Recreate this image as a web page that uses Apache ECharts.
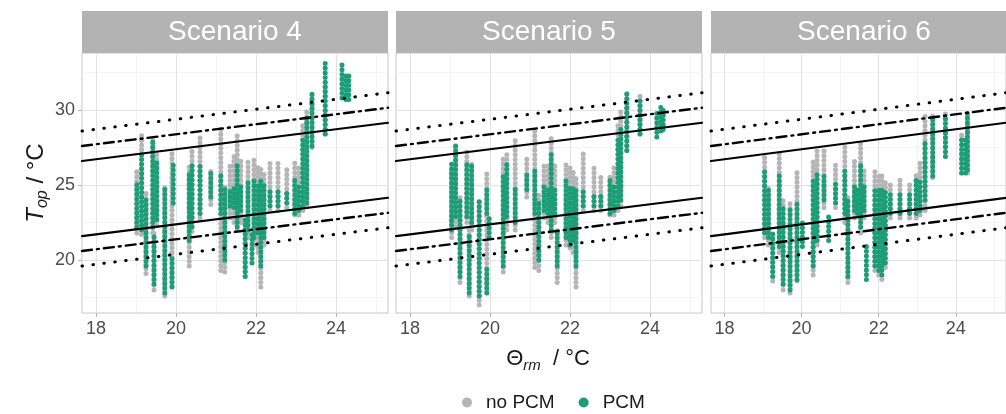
<!DOCTYPE html>
<html>
<head>
<meta charset="utf-8">
<script src="https://cdn.jsdelivr.net/npm/echarts@6/dist/echarts.min.js"></script>
<style>
  html, body { margin: 0; padding: 0; background: #fff; }
  #main { width: 1006px; height: 414px; }
</style>
</head>
<body>
<div id="main"></div>
<script>
// panel titles
const scenarios = ['Scenario 4', 'Scenario 5', 'Scenario 6'];

// axis ticks
const xTicks = [18, 20, 22, 24];
const xMinor = [19, 21, 23, 25];
const yTicks = [20, 25, 30];
const yMinor = [17.5, 22.5, 27.5, 32.5];

// comfort band lines, values at both ends of the running-mean range
const rmRange = [17.65, 25.3];
const upperI = [26.6, 29.15];
const upperII = [27.6, 30.15];
const upperIII = [28.6, 31.15];
const lowerI = [21.6, 24.15];
const lowerII = [20.6, 23.15];
const lowerIII = [19.6, 22.15];

// point columns: [running mean, lowest Top, highest Top]
const noPcm4 = [
  [19.02, 21.8, 26.1], [19.14, 21.7, 28.3], [19.25, 19.1, 24.5], [19.42, 21.8, 28.3],
  [19.45, 18.0, 22.0], [19.52, 22.3, 27.0], [19.72, 17.6, 25.0], [19.9, 18.3, 27.2],
  [20.33, 19.6, 26.4], [20.4, 21.9, 27.3], [20.6, 22.8, 28.2], [20.87, 23.7, 26.2],
  [21.12, 19.3, 28.8], [21.22, 19.2, 25.0], [21.35, 22.8, 26.3], [21.45, 22.5, 27.0],
  [21.53, 22.0, 28.3], [21.62, 22.5, 26.7], [21.73, 18.9, 22.9], [21.8, 21.5, 26.8],
  [21.95, 21.0, 26.7], [22.05, 20.5, 26.2], [22.12, 18.2, 26.2], [22.2, 21.0, 26.0],
  [22.35, 23.3, 26.6], [22.55, 23.3, 26.6], [22.77, 23.5, 26.3], [22.97, 23.0, 26.7],
  [23.07, 23.0, 26.4], [23.17, 23.3, 29.0], [23.27, 23.6, 30.0], [23.4, 27.5, 31.2],
  [23.73, 28.4, 32.0]
];
const pcm4 = [
  [19.02, 22.2, 25.3], [19.14, 22.0, 27.1], [19.25, 19.6, 24.0], [19.42, 22.2, 28.0],
  [19.45, 18.4, 21.8], [19.52, 22.7, 26.7], [19.72, 17.8, 24.7], [19.9, 18.2, 20.2],
  [19.93, 23.8, 26.4], [20.33, 21.3, 25.8], [20.4, 22.2, 26.4], [20.6, 23.1, 26.4],
  [20.87, 24.2, 25.8], [21.12, 23.1, 25.7], [21.22, 20.0, 24.9], [21.35, 23.6, 24.7],
  [21.45, 23.5, 24.9], [21.53, 22.2, 26.4], [21.62, 23.3, 25.0], [21.73, 18.9, 22.9],
  [21.8, 22.0, 25.3], [21.9, 19.8, 21.8], [21.95, 21.5, 25.3], [22.05, 21.8, 25.0],
  [22.12, 19.6, 25.3], [22.2, 21.5, 25.0], [22.35, 23.6, 24.7], [22.55, 23.6, 24.7],
  [22.77, 23.8, 24.7], [22.97, 23.1, 25.3], [23.07, 23.3, 25.0], [23.17, 23.6, 28.0],
  [23.27, 23.8, 29.5], [23.4, 27.6, 31.1], [23.73, 28.4, 33.3], [24.15, 30.8, 33.0],
  [24.25, 30.7, 32.4], [24.32, 30.7, 32.3]
];
const noPcm5 = [
  [19.04, 21.5, 26.0], [19.14, 22.2, 27.8], [19.25, 18.5, 24.3], [19.42, 22.5, 27.2],
  [19.48, 17.6, 22.0], [19.54, 22.0, 26.5], [19.73, 17.0, 24.2], [19.92, 17.9, 26.0],
  [20.33, 19.2, 27.0], [20.42, 22.0, 27.3], [20.63, 22.0, 28.1], [20.92, 24.2, 27.0],
  [21.12, 19.5, 28.6], [21.22, 19.3, 24.5], [21.35, 22.8, 26.3], [21.45, 22.5, 26.5],
  [21.53, 21.5, 28.3], [21.62, 22.5, 26.5], [21.68, 18.5, 22.0], [21.9, 21.0, 26.4],
  [22.0, 20.8, 26.2], [22.08, 20.5, 26.0], [22.15, 18.2, 25.7], [22.33, 23.3, 27.1],
  [22.6, 23.3, 26.2], [22.77, 23.3, 25.8], [23.0, 23.0, 25.8], [23.1, 23.0, 26.2],
  [23.2, 23.3, 29.2], [23.27, 23.6, 30.0], [23.42, 27.3, 31.2], [23.75, 28.4, 31.0]
];
const pcm5 = [
  [19.04, 22.0, 26.4], [19.14, 22.9, 27.6], [19.25, 18.9, 24.0], [19.42, 22.9, 26.4],
  [19.48, 17.8, 21.8], [19.54, 22.5, 26.4], [19.73, 17.6, 24.0], [19.92, 23.1, 24.9],
  [19.92, 17.8, 19.6], [19.98, 21.5, 23.0], [20.33, 19.6, 25.8], [20.42, 22.9, 26.4],
  [20.63, 22.5, 24.9], [20.92, 24.7, 25.8], [21.12, 23.1, 26.2], [21.22, 20.0, 24.0],
  [21.35, 23.3, 24.9], [21.45, 23.1, 24.7], [21.53, 22.0, 27.3], [21.62, 23.1, 24.7],
  [21.68, 19.6, 21.8], [21.9, 21.5, 25.3], [22.0, 21.0, 24.9], [22.08, 21.3, 25.0],
  [22.15, 19.6, 24.9], [22.33, 23.6, 24.7], [22.6, 23.6, 24.4], [22.77, 23.6, 24.4],
  [23.0, 23.1, 25.3], [23.1, 23.3, 25.0], [23.2, 23.6, 28.0], [23.27, 24.0, 29.0],
  [23.42, 27.3, 31.1], [23.75, 28.4, 30.9], [24.17, 28.2, 30.0], [24.27, 28.6, 30.4],
  [24.33, 28.7, 30.2]
];
const noPcm6 = [
  [19.04, 21.5, 27.1], [19.14, 21.0, 25.0], [19.25, 18.6, 22.0], [19.42, 20.5, 27.1],
  [19.52, 18.0, 24.0], [19.7, 17.8, 24.0], [19.88, 18.6, 26.0], [20.3, 19.0, 26.7],
  [20.4, 21.0, 27.3], [20.58, 23.5, 27.3], [20.88, 23.5, 26.4], [21.12, 22.5, 27.8],
  [21.2, 18.5, 24.4], [21.37, 22.8, 26.7], [21.53, 21.8, 28.0], [21.62, 22.8, 26.2],
  [21.9, 19.3, 26.0], [22.0, 19.0, 25.8], [22.08, 18.7, 25.7], [22.17, 19.5, 25.3],
  [22.3, 22.8, 25.0], [22.55, 22.8, 25.6], [22.8, 22.8, 25.3], [22.97, 22.8, 25.8],
  [23.07, 23.0, 26.7], [23.2, 23.3, 29.6], [23.4, 25.5, 29.8], [23.73, 26.9, 29.8],
  [24.15, 25.8, 28.5], [24.3, 25.8, 29.8]
];
const pcm6 = [
  [19.04, 21.8, 26.0], [19.14, 21.5, 24.7], [19.25, 18.9, 21.8], [19.42, 20.9, 25.8],
  [19.52, 18.4, 23.6], [19.7, 18.0, 23.6], [19.88, 18.7, 23.8], [20.02, 20.9, 22.5],
  [20.3, 19.6, 25.3], [20.4, 21.3, 25.8], [20.58, 24.0, 25.8], [20.7, 21.3, 22.9],
  [20.88, 23.8, 25.1], [21.12, 23.1, 26.2], [21.2, 18.9, 24.0], [21.37, 23.3, 24.9],
  [21.45, 23.1, 24.7], [21.53, 22.2, 26.4], [21.62, 23.3, 24.9], [21.68, 18.7, 21.1],
  [21.9, 19.6, 24.9], [22.0, 19.3, 24.7], [22.08, 19.0, 24.9], [22.17, 19.8, 24.7],
  [22.3, 23.1, 24.4], [22.55, 23.1, 24.4], [22.8, 23.1, 24.4], [22.97, 23.1, 25.3],
  [23.07, 23.3, 25.3], [23.2, 24.0, 27.8], [23.4, 25.6, 29.6], [23.73, 26.9, 29.6],
  [24.15, 25.8, 28.0], [24.25, 25.8, 28.0], [24.3, 26.0, 29.8]
];

const noPcmData = [noPcm4, noPcm5, noPcm6];
const pcmData = [pcm4, pcm5, pcm6];

const grey = '#b5b5b5';
const green = '#1b9e77';
const panelLeft = [82, 396, 711];
const panelW = 306;

// a column of dots from lo to hi
function renderColumn(params, api) {
  var x = api.value(0), lo = api.value(1), hi = api.value(2);
  var p1 = api.coord([x, lo]);
  var p2 = api.coord([x, hi]);
  var color = api.visual('color');
  if (Math.abs(p1[1] - p2[1]) < 1) {
    return { type: 'circle', shape: { cx: p1[0], cy: p1[1], r: 2.5 }, style: { fill: color } };
  }
  return {
    type: 'line',
    shape: { x1: p1[0], y1: p1[1], x2: p2[0], y2: p2[1] },
    style: { stroke: color, lineWidth: 5, lineCap: 'round', lineDash: [0.1, 4.6] }
  };
}

function gridLines() {
  var d = [];
  xMinor.forEach(v => d.push({ xAxis: v, lineStyle: { color: '#f1f1f1', width: 0.8, type: 'solid' } }));
  yMinor.forEach(v => d.push({ yAxis: v, lineStyle: { color: '#f1f1f1', width: 0.8, type: 'solid' } }));
  xTicks.forEach(v => d.push({ xAxis: v, lineStyle: { color: '#e3e3e3', width: 1.1, type: 'solid' } }));
  yTicks.forEach(v => d.push({ yAxis: v, lineStyle: { color: '#e3e3e3', width: 1.1, type: 'solid' } }));
  return d;
}

function bandLine(i, vals, type, width, withGrid) {
  var s = {
    type: 'line', xAxisIndex: i, yAxisIndex: i, z: 3,
    data: [[rmRange[0], vals[0]], [rmRange[1], vals[1]]],
    showSymbol: false, symbol: 'none', silent: true,
    lineStyle: { color: '#000', width: width, type: type, cap: 'round' }
  };
  if (withGrid) {
    s.markLine = {
      silent: true, z: 1, symbol: 'none', label: { show: false }, animation: false,
      data: gridLines()
    };
  }
  return s;
}

var grids = [], xAxes = [], yAxes = [], series = [], graphics = [];
var dashDot = [10, 5, 2, 5];
var dotted = [0.5, 10.5];

for (let i = 0; i < 3; i++) {
  grids.push({ left: panelLeft[i], top: 53, width: panelW, height: 260, show: true, borderColor: '#c6c6c6', borderWidth: 1, backgroundColor: '#fff' });
  xAxes.push({
    gridIndex: i, type: 'value', min: rmRange[0], max: rmRange[1],
    axisLine: { show: false }, splitLine: { show: false },
    axisTick: { show: true, customValues: xTicks, length: 4, lineStyle: { color: '#b3b3b3' } },
    axisLabel: { customValues: xTicks, color: '#4d4d4d', fontSize: 18, margin: 7, fontFamily: 'Liberation Sans' }
  });
  yAxes.push({
    gridIndex: i, type: 'value', min: 16.47, max: 33.8,
    axisLine: { show: false }, splitLine: { show: false },
    axisTick: { show: i === 0, customValues: yTicks, length: 4, lineStyle: { color: '#b3b3b3' } },
    axisLabel: { show: i === 0, customValues: yTicks, color: '#4d4d4d', fontSize: 18, margin: 7, fontFamily: 'Liberation Sans' }
  });
  series.push({
    type: 'custom', name: 'no PCM', xAxisIndex: i, yAxisIndex: i, z: 2,
    renderItem: renderColumn, itemStyle: { color: grey },
    encode: { x: 0, y: [1, 2] }, data: noPcmData[i]
  });
  series.push({
    type: 'custom', name: 'PCM', xAxisIndex: i, yAxisIndex: i, z: 2,
    renderItem: renderColumn, itemStyle: { color: green },
    encode: { x: 0, y: [1, 2] }, data: pcmData[i]
  });
  series.push(bandLine(i, upperI, 'solid', 2.2, true));
  series.push(bandLine(i, lowerI, 'solid', 2.2, false));
  series.push(bandLine(i, upperII, dashDot, 2.4, false));
  series.push(bandLine(i, lowerII, dashDot, 2.4, false));
  series.push(bandLine(i, upperIII, dotted, 3, false));
  series.push(bandLine(i, lowerIII, dotted, 3, false));

  // facet strip
  graphics.push({
    type: 'rect', left: panelLeft[i], top: 11, z: 10,
    shape: { width: panelW, height: 42 }, style: { fill: '#b3b3b3' }
  });
  graphics.push({
    type: 'text', x: panelLeft[i] + panelW / 2, y: 32, z: 11,
    style: { text: scenarios[i], fill: '#fff', fontSize: 28, fontFamily: 'Liberation Sans', align: 'center', verticalAlign: 'middle' }
  });
}

// axis titles
graphics.push({
  type: 'text', x: 548, y: 359, z: 11,
  style: {
    text: '{a|Θ}{s|rm}{a|  / °C}', align: 'center', verticalAlign: 'middle',
    rich: {
      a: { fontSize: 22, fontFamily: 'Liberation Sans', fontStyle: 'normal', fill: '#1a1a1a', lineHeight: 28 },
      s: { fontSize: 15, fontFamily: 'Liberation Sans', fontStyle: 'italic', fill: '#1a1a1a', verticalAlign: 'bottom', lineHeight: 18 }
    }
  }
});
graphics.push({
  type: 'text', x: 36, y: 183, rotation: Math.PI / 2, z: 11,
  style: {
    text: '{t|T}{s|op}{a| / °C}', align: 'center', verticalAlign: 'middle',
    rich: {
      t: { fontSize: 24, fontFamily: 'Liberation Sans', fontStyle: 'italic', fill: '#1a1a1a', lineHeight: 30 },
      s: { fontSize: 16, fontFamily: 'Liberation Sans', fontStyle: 'italic', fill: '#1a1a1a', verticalAlign: 'bottom', lineHeight: 20 },
      a: { fontSize: 24, fontFamily: 'Liberation Sans', fontStyle: 'normal', fill: '#1a1a1a', lineHeight: 30 }
    }
  }
});

var myChart = echarts.init(document.getElementById('main'), null, { renderer: 'canvas' });
myChart.setOption({
  animation: false,
  backgroundColor: '#fff',
  grid: grids,
  xAxis: xAxes,
  yAxis: yAxes,
  legend: {
    data: ['no PCM', 'PCM'], left: 462, top: 393, icon: 'circle',
    itemWidth: 28, itemHeight: 10, itemGap: 24, padding: 0,
    textStyle: { fontSize: 19, color: '#1a1a1a', fontFamily: 'Liberation Sans' }
  },
  graphic: graphics,
  series: series
});
</script>
</body>
</html>
